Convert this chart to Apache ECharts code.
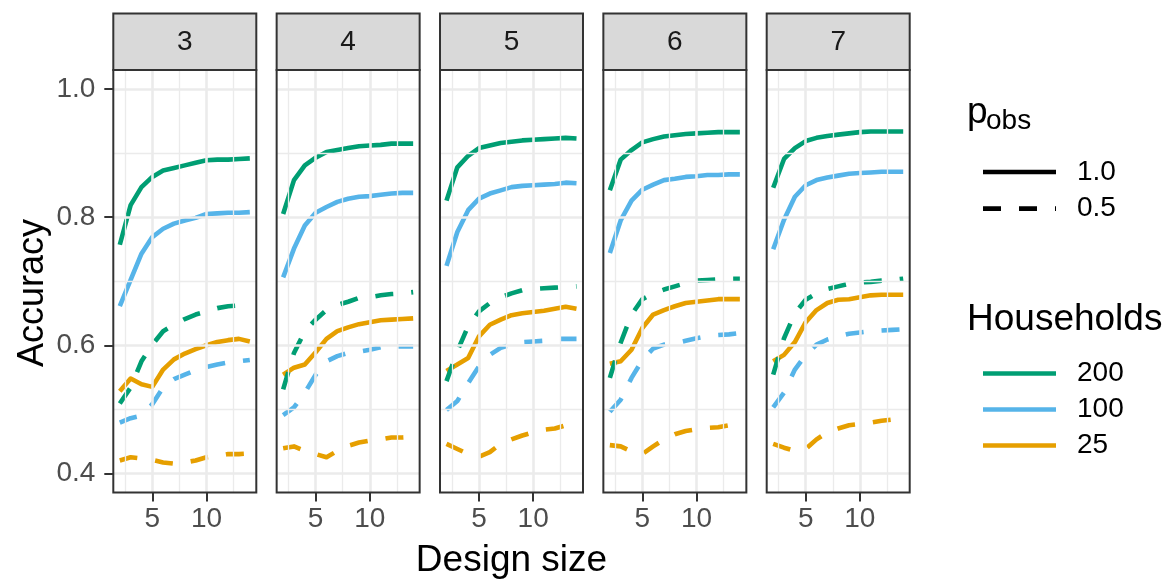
<!DOCTYPE html>
<html>
<head>
<meta charset="utf-8">
<script src="https://cdn.jsdelivr.net/npm/echarts@6/dist/echarts.min.js"></script>
<style>
  html, body { margin: 0; padding: 0; background: #ffffff; }
  #chart { width: 1175px; height: 583px; }
</style>
</head>
<body>
<div id="chart"></div>
<script>
// Facet panels, x values and legend levels
const facets = ['3', '4', '5', '6', '7'];
const designSize = [2, 3, 4, 5, 6, 7, 8, 9, 10, 11, 12, 13, 14];
const households = ['200', '100', '25'];
const pobsLevels = ['1.0', '0.5'];

// Axis breaks
const xTicks = [5, 10];
const xMinor = [2.5, 7.5, 12.5];
const yTicks = [0.4, 0.6, 0.8, 1.0];
const yMinor = [0.5, 0.7, 0.9];

// Accuracy, p_obs = 1.0 (one row per facet 3..7)
const acc200Full = [
  [0.757, 0.819, 0.847, 0.863, 0.873, 0.877, 0.881, 0.885, 0.889, 0.890, 0.890, 0.891, 0.892],
  [0.805, 0.858, 0.881, 0.893, 0.902, 0.905, 0.908, 0.911, 0.912, 0.913, 0.915, 0.915, 0.915],
  [0.826, 0.878, 0.896, 0.908, 0.912, 0.916, 0.918, 0.920, 0.921, 0.922, 0.923, 0.924, 0.923],
  [0.842, 0.890, 0.905, 0.917, 0.922, 0.926, 0.928, 0.930, 0.931, 0.932, 0.933, 0.933, 0.933],
  [0.846, 0.891, 0.908, 0.919, 0.924, 0.927, 0.929, 0.931, 0.933, 0.934, 0.934, 0.934, 0.934]
];
const acc100Full = [
  [0.661, 0.702, 0.743, 0.769, 0.782, 0.790, 0.795, 0.799, 0.805, 0.806, 0.807, 0.807, 0.808],
  [0.706, 0.751, 0.787, 0.807, 0.816, 0.824, 0.829, 0.832, 0.833, 0.835, 0.837, 0.838, 0.838],
  [0.724, 0.777, 0.811, 0.829, 0.837, 0.842, 0.847, 0.849, 0.850, 0.851, 0.852, 0.854, 0.853],
  [0.744, 0.795, 0.826, 0.843, 0.851, 0.858, 0.860, 0.863, 0.864, 0.866, 0.866, 0.867, 0.867],
  [0.750, 0.796, 0.832, 0.850, 0.858, 0.862, 0.865, 0.868, 0.869, 0.870, 0.871, 0.871, 0.871]
];
const acc25Full = [
  [0.528, 0.548, 0.539, 0.535, 0.562, 0.578, 0.587, 0.594, 0.600, 0.605, 0.608, 0.610, 0.606],
  [0.554, 0.565, 0.570, 0.589, 0.610, 0.622, 0.628, 0.633, 0.636, 0.639, 0.640, 0.641, 0.642],
  [0.560, 0.570, 0.580, 0.614, 0.632, 0.640, 0.647, 0.650, 0.652, 0.654, 0.657, 0.660, 0.657],
  [0.571, 0.575, 0.593, 0.627, 0.648, 0.655, 0.661, 0.666, 0.668, 0.670, 0.672, 0.672, 0.672],
  [0.575, 0.585, 0.605, 0.636, 0.655, 0.666, 0.671, 0.672, 0.675, 0.678, 0.679, 0.679, 0.679]
];

// Accuracy, p_obs = 0.5
const acc200Half = [
  [0.509, 0.534, 0.575, 0.601, 0.622, 0.632, 0.641, 0.648, 0.653, 0.658, 0.661, 0.662, 0.663],
  [0.531, 0.588, 0.622, 0.640, 0.655, 0.663, 0.668, 0.674, 0.675, 0.678, 0.680, 0.681, 0.683],
  [0.544, 0.591, 0.630, 0.653, 0.666, 0.675, 0.681, 0.686, 0.688, 0.689, 0.690, 0.691, 0.692],
  [0.549, 0.604, 0.648, 0.672, 0.681, 0.687, 0.692, 0.697, 0.701, 0.702, 0.703, 0.704, 0.704],
  [0.554, 0.611, 0.650, 0.671, 0.681, 0.688, 0.692, 0.696, 0.698, 0.699, 0.701, 0.702, 0.704]
];
const acc100Half = [
  [0.479, 0.486, 0.490, 0.508, 0.534, 0.547, 0.554, 0.561, 0.566, 0.570, 0.573, 0.575, 0.577],
  [0.491, 0.503, 0.526, 0.554, 0.575, 0.583, 0.588, 0.590, 0.593, 0.597, 0.598, 0.598, 0.598],
  [0.499, 0.513, 0.541, 0.567, 0.585, 0.596, 0.601, 0.605, 0.606, 0.607, 0.610, 0.610, 0.610],
  [0.496, 0.515, 0.549, 0.577, 0.595, 0.601, 0.603, 0.607, 0.611, 0.614, 0.616, 0.617, 0.619],
  [0.503, 0.526, 0.562, 0.585, 0.601, 0.609, 0.614, 0.618, 0.620, 0.622, 0.623, 0.624, 0.625]
];
const acc25Half = [
  [0.420, 0.425, 0.423, 0.421, 0.417, 0.415, 0.417, 0.420, 0.425, 0.427, 0.430, 0.430, 0.431],
  [0.439, 0.442, 0.435, 0.430, 0.425, 0.435, 0.443, 0.448, 0.451, 0.453, 0.456, 0.456, 0.457],
  [0.446, 0.438, 0.430, 0.426, 0.433, 0.446, 0.453, 0.459, 0.464, 0.468, 0.470, 0.475, 0.479],
  [0.444, 0.442, 0.434, 0.430, 0.442, 0.453, 0.461, 0.466, 0.469, 0.471, 0.472, 0.475, 0.477],
  [0.446, 0.440, 0.435, 0.438, 0.453, 0.464, 0.470, 0.475, 0.477, 0.479, 0.482, 0.484, 0.485]
];

const colors = { '200': '#009E73', '100': '#56B4E9', '25': '#E69F00' };
const seriesByLevel = {
  '1.0': { '200': acc200Full, '100': acc100Full, '25': acc25Full },
  '0.5': { '200': acc200Half, '100': acc100Half, '25': acc25Half }
};

const FONT = '"Liberation Sans", Arial, Helvetica, sans-serif';
const LINE_W = 4.6;
const DASH = [18, 18];
const dashFor = lvl => (lvl === '1.0' ? 'solid' : DASH);

// Panel geometry
const panelLeft0 = 113.3, panelStep = 163.35, panelW = 143;
const panelTop = 70, panelH = 422.5;
const stripTop = 13.5, stripH = 56.5;

const grids = [], xAxes = [], yAxes = [], series = [], graphics = [];

facets.forEach((f, i) => {
  const left = panelLeft0 + i * panelStep;
  grids.push({ left: left, top: panelTop, width: panelW, height: panelH, show: false, containLabel: false });

  xAxes.push({
    type: 'value', gridIndex: i, min: 1.4, max: 14.6,
    axisLine: { show: false },
    splitLine: { show: false },
    axisTick: { show: true, customValues: xTicks, length: 9, lineStyle: { color: '#333333', width: 2 } },
    axisLabel: { show: true, customValues: xTicks, fontSize: 28, color: '#4D4D4D', margin: 13, fontFamily: FONT }
  });
  yAxes.push({
    type: 'value', gridIndex: i, min: 0.37, max: 1.03,
    axisLine: { show: false },
    splitLine: { show: false },
    axisTick: { show: i === 0, customValues: yTicks, length: 9, lineStyle: { color: '#333333', width: 2 } },
    axisLabel: {
      show: i === 0, customValues: yTicks, fontSize: 28, color: '#4D4D4D', margin: 18, fontFamily: FONT,
      formatter: v => Number(v).toFixed(1)
    }
  });

  // background grid lines (major + minor)
  const gridData = []
    .concat(yMinor.map(v => ({ yAxis: v, lineStyle: { width: 1.3 } })))
    .concat(xMinor.map(v => ({ xAxis: v, lineStyle: { width: 1.3 } })))
    .concat(yTicks.map(v => ({ yAxis: v, lineStyle: { width: 2.6 } })))
    .concat(xTicks.map(v => ({ xAxis: v, lineStyle: { width: 2.6 } })));
  series.push({
    type: 'line', name: '__grid' + i, xAxisIndex: i, yAxisIndex: i, data: [], z: 1,
    silent: true, showSymbol: false,
    markLine: {
      silent: true, symbol: ['none', 'none'], label: { show: false },
      lineStyle: { color: '#EBEBEB', type: 'solid' },
      emphasis: { disabled: true },
      data: gridData
    }
  });

  // accuracy lines
  pobsLevels.forEach(lvl => {
    households.forEach(h => {
      const vals = seriesByLevel[lvl][h][i];
      series.push({
        type: 'line', name: h, xAxisIndex: i, yAxisIndex: i, z: 3,
        data: designSize.map((x, k) => [x, vals[k]]),
        showSymbol: false, symbol: 'none', clip: true,
        color: colors[h],
        lineStyle: { color: colors[h], width: LINE_W, type: dashFor(lvl), cap: 'butt', join: 'round' },
        emphasis: { disabled: true }
      });
    });
  });

  // panel border
  graphics.push({
    type: 'rect', z: 50, silent: true,
    shape: { x: left, y: panelTop, width: panelW, height: panelH },
    style: { fill: 'none', stroke: '#333333', lineWidth: 2 }
  });
  // strip
  graphics.push({
    type: 'rect', z: 50, silent: true,
    shape: { x: left, y: stripTop, width: panelW, height: stripH },
    style: { fill: '#D9D9D9', stroke: '#333333', lineWidth: 2 }
  });
  graphics.push({
    type: 'text', z: 51, silent: true, x: left + panelW / 2, y: stripTop + stripH / 2 + 1,
    style: { text: f, fill: '#1A1A1A', font: '28px ' + FONT, align: 'center', verticalAlign: 'middle' }
  });
});

// legend key series for p_obs (no data)
pobsLevels.forEach(lvl => {
  series.push({
    type: 'line', name: lvl, xAxisIndex: 0, yAxisIndex: 0, data: [],
    showSymbol: false, symbol: 'none', color: '#000000',
    lineStyle: { color: '#000000', width: LINE_W, type: dashFor(lvl), cap: 'butt' }
  });
});

// axis titles and legend titles
graphics.push({
  type: 'text', silent: true, x: 33, y: 293, rotation: Math.PI / 2,
  style: { text: 'Accuracy', fill: '#000000', font: '36px ' + FONT, align: 'center', verticalAlign: 'middle' }
});
graphics.push({
  type: 'text', silent: true, x: panelLeft0 + (4 * panelStep + panelW) / 2, y: 561,
  style: { text: 'Design size', fill: '#000000', font: '37px ' + FONT, align: 'center', verticalAlign: 'middle' }
});
graphics.push({
  type: 'text', silent: true, x: 967, y: 113,
  style: { text: 'p', fill: '#000000', font: '37px ' + FONT, align: 'left', verticalAlign: 'middle' }
});
graphics.push({
  type: 'text', silent: true, x: 986, y: 121,
  style: { text: 'obs', fill: '#000000', font: '28px ' + FONT, align: 'left', verticalAlign: 'middle' }
});
graphics.push({
  type: 'text', silent: true, x: 967, y: 320,
  style: { text: 'Households', fill: '#000000', font: '37px ' + FONT, align: 'left', verticalAlign: 'middle' }
});

// legend entries with explicit key line styles (no point symbol)
const keyItem = (name, color, type) => ({
  name: name,
  itemStyle: { opacity: 0 },
  lineStyle: { color: color, width: LINE_W, type: type, cap: 'butt', opacity: 1 }
});
const legendCommon = {
  orient: 'vertical', itemWidth: 73, itemHeight: 28, selectedMode: false,
  itemStyle: { opacity: 0 },
  textStyle: { fontSize: 28, color: '#000000', fontFamily: FONT, padding: [0, 0, 0, 16] }
};

const chart = echarts.init(document.getElementById('chart'), null, { renderer: 'canvas' });
chart.setOption({
  animation: false,
  backgroundColor: '#ffffff',
  textStyle: { fontFamily: FONT },
  grid: grids,
  xAxis: xAxes,
  yAxis: yAxes,
  legend: [
    Object.assign({}, legendCommon, {
      data: pobsLevels.map(l => keyItem(l, '#000000', dashFor(l))),
      left: 975.7, top: 153, itemGap: 8.6
    }),
    Object.assign({}, legendCommon, {
      data: households.map(h => keyItem(h, colors[h], 'solid')),
      left: 975.7, top: 354.5, itemGap: 8
    })
  ],
  series: series,
  graphic: graphics
});
</script>
</body>
</html>
